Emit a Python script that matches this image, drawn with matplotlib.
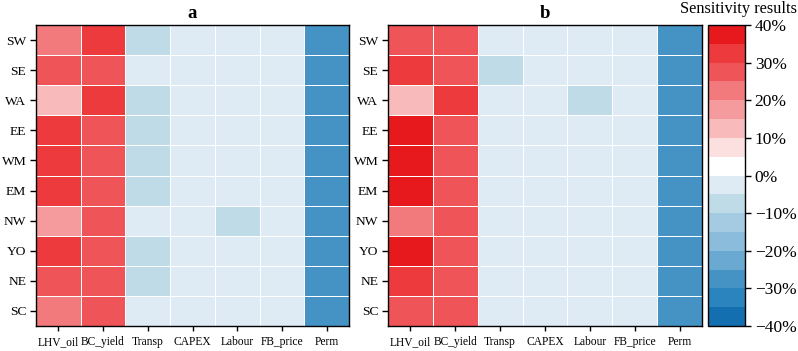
import numpy as np
import matplotlib
matplotlib.use("Agg")
import matplotlib.pyplot as plt
from matplotlib.colors import ListedColormap, BoundaryNorm
from matplotlib.ticker import FuncFormatter

plt.rcParams['font.family'] = ['Liberation Serif', 'DejaVu Serif']

regions = ["SW", "SE", "WA", "EE", "WM", "EM", "NW", "YO", "NE", "SC"]
params = ["LHV_oil", "BC_yield", "Transp", "CAPEX", "Labour", "FB_price", "Perm"]

# values in % (columns follow params)
a_lhv = [22, 27, 12, 32, 32, 32, 17, 32, 27, 22]
a_bc = [32, 27, 32, 27, 27, 27, 27, 27, 27, 27]
a_transp = [-7, -2, -7, -7, -7, -7, -2, -7, -7, -2]
a_capex = [-2, -2, -2, -2, -2, -2, -2, -2, -2, -2]
a_labour = [-2, -2, -2, -2, -2, -2, -7, -2, -2, -2]
a_fb = [-2, -2, -2, -2, -2, -2, -2, -2, -2, -2]
a_perm = [-27, -27, -27, -27, -27, -27, -27, -27, -27, -27]

b_lhv = [27, 32, 12, 37, 37, 37, 22, 37, 32, 27]
b_bc = [27, 27, 32, 27, 27, 27, 27, 27, 27, 27]
b_transp = [-2, -7, -2, -2, -2, -2, -2, -2, -2, -2]
b_capex = [-2, -2, -2, -2, -2, -2, -2, -2, -2, -2]
b_labour = [-2, -2, -7, -2, -2, -2, -2, -2, -2, -2]
b_fb = [-2, -2, -2, -2, -2, -2, -2, -2, -2, -2]
b_perm = [-27, -27, -27, -27, -27, -27, -27, -27, -27, -27]

cbar_ticks = [-40, -30, -20, -10, 0, 10, 20, 30, 40]

colors = ["#146fb0", "#2b84bd", "#4593c5", "#6aa9d2", "#8bbcdc", "#a4cbe2",
          "#c0dbe8", "#deebf5", "#ffffff", "#fcdfdf", "#f8babb", "#f59b9d",
          "#f27a7c", "#ef5558", "#ec3a3d", "#e8191c"]
cmap = ListedColormap(colors)
bounds = np.arange(-40, 45, 5)
norm = BoundaryNorm(bounds, cmap.N)

data_a = np.array([a_lhv, a_bc, a_transp, a_capex, a_labour, a_fb, a_perm]).T
data_b = np.array([b_lhv, b_bc, b_transp, b_capex, b_labour, b_fb, b_perm]).T

fig = plt.figure(figsize=(7.98, 3.51), dpi=100)
axa = fig.add_axes([36/798, 1-326/351, 313/798, 301/351])
axb = fig.add_axes([388/798, 1-326/351, 314/798, 301/351])
cax = fig.add_axes([708/798, 1-326/351, 37/798, 301/351])

for ax, data, title in [(axa, data_a, "a"), (axb, data_b, "b")]:
    m = ax.pcolormesh(np.arange(len(params)+1), np.arange(len(regions)+1), data,
                      cmap=cmap, norm=norm, edgecolors="white", linewidth=0.6)
    ax.set_xlim(0, len(params))
    ax.set_ylim(len(regions), 0)
    ax.set_xticks(np.arange(len(params)) + 0.5)
    ax.set_xticklabels(params, fontsize=8.3)
    ax.set_yticks(np.arange(len(regions)) + 0.5)
    ax.set_yticklabels(regions, fontsize=9.7)
    ax.tick_params(axis="y", length=4, width=1, pad=3)
    ax.tick_params(axis="x", length=3.8, width=1, pad=3.5)
    ax.set_title(title, fontsize=13.5, fontweight="bold", pad=5)
    for s in ax.spines.values():
        s.set_linewidth(1.0)

cb = fig.colorbar(m, cax=cax, ticks=cbar_ticks)
cb.ax.minorticks_off()
cb.ax.yaxis.set_major_formatter(FuncFormatter(lambda v, p: f"{int(v)}%".replace("-", "\u2212")))
cb.ax.tick_params(labelsize=12.5, length=4, width=1, pad=3)
cb.outline.set_linewidth(1.0)
fig.text(739/798, 1-9/351, "Sensitivity results", fontsize=11.8, ha="center", va="center")

fig.savefig("out.png", dpi=100)
